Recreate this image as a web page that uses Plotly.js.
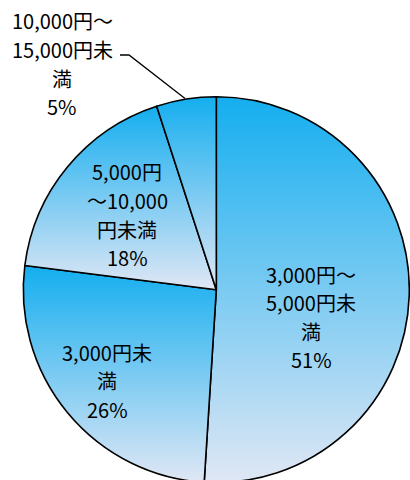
<!DOCTYPE html>
<html>
<head>
<meta charset="utf-8">
<script src="https://cdn.plot.ly/plotly-3.0.1.min.js"></script>
<style>
html, body { margin: 0; padding: 0; overflow: hidden; background: #fff; }
#chart { width: 410px; height: 486px; }
</style>
</head>
<body>
<div id="chart"></div>
<script>
// ---- data ----
const labels = ["3,000円～5,000円未満", "3,000円未満", "5,000円～10,000円未満", "10,000円～15,000円未満"];
const values = [51, 26, 18, 5];
const labelLines = [
  ["3,000円～", "5,000円未", "満"],
  ["3,000円未", "満"],
  ["5,000円", "～10,000", "円未満"],
  ["10,000円～", "15,000円未", "満"]
];

// ---- layout helpers ----
const W = 410, H = 486;
const FONT = '"Noto Sans CJK JP", "Noto Sans", sans-serif';
const cx = 216.3, cy = 289.7, R = 193;
const toX = px => px / W;
const toY = py => 1 - py / H;

// label anchors (center x, first line y, line step) in pixels
const anchors = [
  {x: 311, y: 274, step: 28.5},
  {x: 107, y: 352, step: 28.5},
  {x: 127, y: 172, step: 28.5},
  {x: 62,  y: 20,  step: 29}
];

const total = values.reduce((a, b) => a + b, 0);
const annotations = [];
values.forEach((v, i) => {
  const lines = labelLines[i].concat([Math.round(v / total * 100) + "%"]);
  lines.forEach((t, j) => {
    annotations.push({
      xref: "paper", yref: "paper",
      x: toX(anchors[i].x), y: toY(anchors[i].y + j * anchors[i].step),
      xanchor: "center", yanchor: "middle",
      text: t, showarrow: false,
      font: {family: FONT, size: 20, color: "#000"}
    });
  });
});

const trace = {
  type: "pie",
  labels: labels,
  values: values,
  sort: false,
  direction: "clockwise",
  rotation: 0,
  textinfo: "none",
  hoverinfo: "label+percent",
  marker: {
    colors: ["#7cc4f0", "#7cc4f0", "#7cc4f0", "#7cc4f0"],
    line: {color: "#000", width: 1.6}
  },
  domain: {
    x: [(cx - R) / W, (cx + R) / W],
    y: [(H - cy - R) / H, (H - cy + R) / H]
  }
};

const layout = {
  width: W, height: H,
  margin: {l: 0, r: 0, t: 0, b: 0},
  showlegend: false,
  paper_bgcolor: "#fff",
  annotations: annotations,
  shapes: [{
    type: "path", xref: "paper", yref: "paper",
    path: "M " + toX(120) + " " + toY(55) + " L " + toX(129) + " " + toY(55) + " L " + toX(185) + " " + toY(98.5),
    line: {color: "#000", width: 1.3}
  }]
};

Plotly.newPlot("chart", [trace], layout, {displayModeBar: false, staticPlot: true}).then(gd => {
  const svg = gd.querySelector("svg.main-svg");
  const NS = "http://www.w3.org/2000/svg";
  let defs = svg.querySelector("defs");
  if (!defs) { defs = document.createElementNS(NS, "defs"); svg.insertBefore(defs, svg.firstChild); }
  const paths = gd.querySelectorAll(".slice path.surface");
  paths.forEach((p, i) => {
    const g = document.createElementNS(NS, "linearGradient");
    g.setAttribute("id", "sliceGrad" + i);
    g.setAttribute("x1", "0"); g.setAttribute("y1", "0");
    g.setAttribute("x2", "0"); g.setAttribute("y2", "1");
    [["0", "#14aeef"], ["1", "#e0e7f5"]].forEach(([o, c]) => {
      const s = document.createElementNS(NS, "stop");
      s.setAttribute("offset", o); s.setAttribute("stop-color", c);
      g.appendChild(s);
    });
    defs.appendChild(g);
    p.style.fill = "url(#sliceGrad" + i + ")";
  });
});
</script>
</body>
</html>
